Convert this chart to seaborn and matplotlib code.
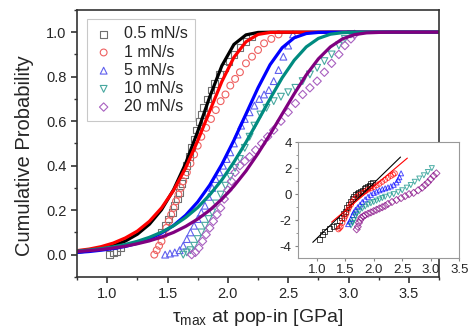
import matplotlib
matplotlib.use("Agg")
import matplotlib.pyplot as plt
import pandas as pd
import seaborn as sns

# measured points (cumulative probability vs tau_max)
x_05 = [1.02, 1.05, 1.08, 1.11, 1.45, 1.48, 1.51, 1.54, 1.56, 1.58, 1.60, 1.62, 1.64, 1.66, 1.68, 1.70,
        1.72, 1.74, 1.76, 1.78, 1.80, 1.83, 1.86, 1.89, 1.93, 1.97, 2.01, 2.05, 2.10, 2.15, 2.20]
y_05 = [0.00, 0.01, 0.015, 0.03, 0.10, 0.13, 0.16, 0.19, 0.22, 0.25, 0.28, 0.32, 0.36, 0.40, 0.44, 0.48,
        0.52, 0.56, 0.60, 0.63, 0.66, 0.70, 0.74, 0.77, 0.81, 0.84, 0.87, 0.90, 0.93, 0.96, 0.98]
x_1 = [1.39, 1.41, 1.43, 1.45, 1.47, 1.49, 1.51, 1.53, 1.55, 1.57, 1.59, 1.61, 1.63, 1.66, 1.69, 1.72,
       1.75, 1.78, 1.82, 1.86, 1.90, 1.94, 1.98, 2.02, 2.06, 2.10, 2.15, 2.20, 2.25, 2.30, 2.36, 2.42]
y_1 = [0.00, 0.02, 0.04, 0.06, 0.09, 0.12, 0.15, 0.18, 0.21, 0.24, 0.27, 0.30, 0.33, 0.37, 0.41, 0.45,
       0.49, 0.53, 0.57, 0.61, 0.65, 0.69, 0.72, 0.76, 0.79, 0.82, 0.86, 0.89, 0.92, 0.95, 0.97, 0.99]
x_5 = [1.48, 1.52, 1.56, 1.60, 1.63, 1.66, 1.69, 1.72, 1.75, 1.78, 1.81, 1.84, 1.87, 1.90, 1.93, 1.96,
       1.99, 2.02, 2.05, 2.08, 2.11, 2.14, 2.18, 2.22, 2.26, 2.30, 2.34, 2.38, 2.42, 2.46, 2.50, 2.54]
y_5 = [0.00, 0.005, 0.01, 0.02, 0.04, 0.07, 0.10, 0.13, 0.16, 0.19, 0.22, 0.26, 0.30, 0.34, 0.37, 0.40,
       0.43, 0.46, 0.50, 0.54, 0.58, 0.61, 0.64, 0.67, 0.70, 0.72, 0.74, 0.78, 0.83, 0.89, 0.94, 0.99]
x_10 = [1.63, 1.66, 1.69, 1.72, 1.75, 1.78, 1.81, 1.84, 1.87, 1.90, 1.94, 1.98, 2.02, 2.06, 2.10, 2.14,
        2.18, 2.22, 2.27, 2.32, 2.38, 2.44, 2.50, 2.56, 2.62, 2.68, 2.74, 2.80, 2.86, 2.92, 2.97, 3.02]
y_10 = [0.00, 0.01, 0.02, 0.04, 0.07, 0.10, 0.13, 0.16, 0.19, 0.23, 0.27, 0.31, 0.35, 0.39, 0.43, 0.48,
        0.53, 0.58, 0.63, 0.66, 0.69, 0.71, 0.73, 0.75, 0.78, 0.81, 0.84, 0.87, 0.90, 0.94, 0.97, 0.99]
x_20 = [1.70, 1.73, 1.76, 1.79, 1.82, 1.85, 1.88, 1.91, 1.94, 1.97, 2.00, 2.03, 2.06, 2.10, 2.14, 2.18,
        2.23, 2.28, 2.33, 2.38, 2.44, 2.50, 2.56, 2.62, 2.68, 2.74, 2.80, 2.86, 2.92, 2.97, 3.02, 3.05]
y_20 = [0.00, 0.01, 0.03, 0.06, 0.09, 0.12, 0.15, 0.18, 0.21, 0.25, 0.29, 0.33, 0.37, 0.40, 0.42, 0.44,
        0.47, 0.50, 0.53, 0.56, 0.60, 0.64, 0.68, 0.72, 0.75, 0.78, 0.82, 0.86, 0.90, 0.94, 0.97, 0.99]

# fitted cumulative curves, read at fixed tau steps
fit_x = [0.75, 0.85, 0.95, 1.05, 1.15, 1.25, 1.35, 1.45, 1.55, 1.65, 1.75, 1.85, 1.95, 2.05, 2.15, 2.25,
         2.35, 2.45, 2.55, 2.65, 2.75, 2.85, 2.95, 3.05, 3.15, 3.25, 3.35, 3.45, 3.55, 3.65, 3.75]
fit_05 = [0.011, 0.017, 0.027, 0.040, 0.061, 0.092, 0.137, 0.202, 0.292, 0.410, 0.554, 0.710, 0.849, 0.945,
          0.988, 0.999, 1.0, 1.0, 1.0, 1.0, 1.0, 1.0, 1.0, 1.0, 1.0, 1.0, 1.0, 1.0, 1.0, 1.0, 1.0]
fit_1 = [0.018, 0.025, 0.036, 0.052, 0.075, 0.106, 0.150, 0.210, 0.289, 0.390, 0.512, 0.646, 0.778, 0.887,
         0.957, 0.990, 0.999, 1.0, 1.0, 1.0, 1.0, 1.0, 1.0, 1.0, 1.0, 1.0, 1.0, 1.0, 1.0, 1.0, 1.0]
fit_5 = [0.010, 0.014, 0.020, 0.027, 0.037, 0.051, 0.071, 0.097, 0.131, 0.177, 0.237, 0.313, 0.406, 0.514,
         0.632, 0.750, 0.854, 0.930, 0.975, 0.994, 0.999, 1.0, 1.0, 1.0, 1.0, 1.0, 1.0, 1.0, 1.0, 1.0, 1.0]
fit_10 = [0.016, 0.021, 0.027, 0.035, 0.046, 0.060, 0.078, 0.101, 0.130, 0.167, 0.212, 0.269, 0.336, 0.416,
          0.505, 0.602, 0.701, 0.795, 0.874, 0.934, 0.972, 0.991, 0.998, 1.0, 1.0, 1.0, 1.0, 1.0, 1.0, 1.0, 1.0]
fit_20 = [0.014, 0.018, 0.023, 0.030, 0.038, 0.049, 0.062, 0.079, 0.100, 0.127, 0.160, 0.200, 0.249, 0.308,
          0.376, 0.455, 0.541, 0.632, 0.723, 0.808, 0.880, 0.934, 0.970, 0.989, 0.997, 0.999, 1.0, 1.0, 1.0, 1.0, 1.0]

# inset: Weibull-type plot of the same tests
ix_05 = [1.05, 1.10, 1.14, 1.22, 1.30, 1.34, 1.40, 1.43, 1.47, 1.50, 1.53, 1.56, 1.59, 1.62, 1.65, 1.68,
         1.71, 1.74, 1.77, 1.80, 1.83, 1.86, 1.89, 1.92, 1.95, 1.98]
iy_05 = [-3.5, -3.1, -2.9, -2.6, -2.5, -2.4, -2.0, -1.8, -1.5, -1.3, -1.05, -0.8, -0.55, -0.3, -0.15, 0.0,
         0.08, 0.15, 0.22, 0.3, 0.4, 0.5, 0.6, 0.7, 0.8, 0.9]
ix_1 = [1.38, 1.40, 1.42, 1.45, 1.48, 1.50, 1.52, 1.55, 1.57, 1.60, 1.62, 1.66, 1.70, 1.75, 1.80, 1.85,
        1.90, 1.95, 2.00, 2.05, 2.10, 2.15, 2.20, 2.25, 2.30, 2.34, 2.37]
iy_1 = [-2.7, -2.6, -2.5, -2.2, -1.9, -1.7, -1.5, -1.2, -1.0, -0.8, -0.6, -0.4, -0.2, -0.05, 0.1, 0.22,
        0.35, 0.45, 0.55, 0.68, 0.8, 0.95, 1.1, 1.25, 1.4, 1.5, 1.6]
ix_5 = [1.55, 1.58, 1.60, 1.63, 1.65, 1.68, 1.72, 1.76, 1.80, 1.85, 1.90, 1.95, 2.00, 2.05, 2.10, 2.15,
        2.20, 2.25, 2.30, 2.35, 2.40, 2.43, 2.45, 2.48]
iy_5 = [-2.3, -2.1, -1.9, -1.6, -1.4, -1.2, -1.0, -0.8, -0.6, -0.4, -0.2, -0.05, 0.1, 0.2, 0.3, 0.38,
        0.45, 0.52, 0.6, 0.72, 0.9, 1.1, 1.3, 1.6]
ix_10 = [1.60, 1.63, 1.65, 1.68, 1.70, 1.75, 1.80, 1.85, 1.90, 1.95, 2.00, 2.05, 2.10, 2.15, 2.20, 2.28,
         2.35, 2.43, 2.50, 2.58, 2.65, 2.72, 2.80, 2.88, 2.95, 3.02]
iy_10 = [-2.4, -2.2, -2.0, -1.7, -1.5, -1.3, -1.1, -0.95, -0.8, -0.7, -0.6, -0.5, -0.4, -0.3, -0.2, -0.1,
         0.0, 0.15, 0.3, 0.5, 0.7, 0.95, 1.2, 1.45, 1.7, 2.0]
ix_20 = [1.70, 1.72, 1.74, 1.76, 1.78, 1.82, 1.85, 1.90, 1.95, 2.00, 2.05, 2.10, 2.15, 2.20, 2.25, 2.32,
         2.40, 2.48, 2.55, 2.62, 2.70, 2.78, 2.85, 2.90, 2.95, 3.00, 3.05, 3.10]
iy_20 = [-2.7, -2.5, -2.2, -2.0, -1.8, -1.7, -1.6, -1.5, -1.4, -1.3, -1.2, -1.1, -1.0, -0.9, -0.75, -0.6,
         -0.45, -0.3, -0.15, 0.0, 0.1, 0.3, 0.5, 0.7, 0.9, 1.15, 1.4, 1.6]
iline_x_05 = [0.93, 2.47]
iline_y_05 = [-3.7, 2.85]
iline_x_1 = [1.26, 2.59]
iline_y_1 = [-2.15, 2.77]

labels = ["0.5 mN/s", "1 mN/s", "5 mN/s", "10 mN/s", "20 mN/s"]
line_colors = ["#000000", "#ff0000", "#0000ff", "#008b80", "#800080"]
mark_colors = ["#707070", "#ee6060", "#6060ee", "#48a8a0", "#a860c0"]
markers = ["s", "o", "^", "v", "D"]

sns.set_style("ticks")
plt.rcParams["font.family"] = ["Liberation Sans", "DejaVu Sans"]
plt.rcParams["axes.unicode_minus"] = False
plt.rcParams["mathtext.fontset"] = "custom"
plt.rcParams["mathtext.rm"] = "Liberation Sans"
plt.rcParams["mathtext.default"] = "regular"

fig = plt.figure(figsize=(4.7, 3.32), dpi=100)
ax = fig.add_axes([0.164, 0.166, 0.770, 0.804])

pts = [(x_05, y_05), (x_1, y_1), (x_5, y_5), (x_10, y_10), (x_20, y_20)]
fits = [fit_05, fit_1, fit_5, fit_10, fit_20]
for (xv, yv), lab, mc, mk in zip(pts, labels, mark_colors, markers):
    ms = 18 if mk == "D" else 24
    sns.scatterplot(x=xv, y=yv, ax=ax, marker=mk, s=ms, facecolors="none", edgecolors=mc,
                    linewidths=0.8, label=lab)
for fv, lc in zip(fits, line_colors):
    sns.lineplot(x=fit_x, y=fv, ax=ax, color=lc, lw=2.3, sort=False)

ax.set_xlim(0.75, 3.75)
ax.set_ylim(-0.1, 1.1)
ax.set_xticks([1.0, 1.5, 2.0, 2.5, 3.0, 3.5])
ax.set_xticks([0.75, 1.25, 1.75, 2.25, 2.75, 3.25, 3.75], minor=True)
ax.set_yticks([0.0, 0.2, 0.4, 0.6, 0.8, 1.0])
ax.set_yticks([-0.1, 0.1, 0.3, 0.5, 0.7, 0.9, 1.1], minor=True)
ax.tick_params(which="major", length=4, width=1.2, labelsize=10.5, color="#333333")
ax.tick_params(which="minor", length=2.5, width=1.0, color="#333333")
for s in ax.spines.values():
    s.set_linewidth(1.2)
    s.set_color("#333333")
ax.set_xlabel(r"$\tau_{max}$ at pop-in [GPa]", fontsize=14, labelpad=4)
ax.set_ylabel("Cumulative Probability", fontsize=14.5)
ax.yaxis.set_label_coords(-0.118, 0.453)

leg = ax.legend(loc="upper left", bbox_to_anchor=(0.005, 0.995), fontsize=11.5, frameon=True,
                fancybox=False, edgecolor="#bbbbbb", handletextpad=0.7, labelspacing=0.2,
                borderpad=0.45, handlelength=1.2)
leg.get_frame().set_linewidth(0.8)

ins = fig.add_axes([0.634, 0.223, 0.343, 0.349])
ipts = [(ix_05, iy_05), (ix_1, iy_1), (ix_5, iy_5), (ix_10, iy_10), (ix_20, iy_20)]
for (xv, yv), mc, lc, mk in zip(ipts, mark_colors, line_colors, markers):
    sns.scatterplot(x=xv, y=yv, ax=ins, marker=mk, s=13, facecolors="none", edgecolors=lc,
                    linewidths=0.7, alpha=0.7, legend=False)
sns.lineplot(x=iline_x_05, y=iline_y_05, ax=ins, color="#000000", lw=0.8)
sns.lineplot(x=iline_x_1, y=iline_y_1, ax=ins, color="#ff0000", lw=0.8)
ins.set_xlim(0.67, 3.5)
ins.set_ylim(-4.9, 4)
ins.set_xticks([1.0, 1.5, 2.0, 2.5, 3.0, 3.5])
ins.set_yticks([-4, -2, 0, 2, 4])
ins.set_yticks([-3, -1, 1, 3], minor=True)
ins.tick_params(which="major", length=2.5, width=0.8, labelsize=9.5, pad=2, color="#888888")
ins.tick_params(which="minor", length=1.5, width=0.6, color="#888888")
for s in ins.spines.values():
    s.set_linewidth(0.8)
    s.set_color("#999999")

fig.savefig("out.png")
